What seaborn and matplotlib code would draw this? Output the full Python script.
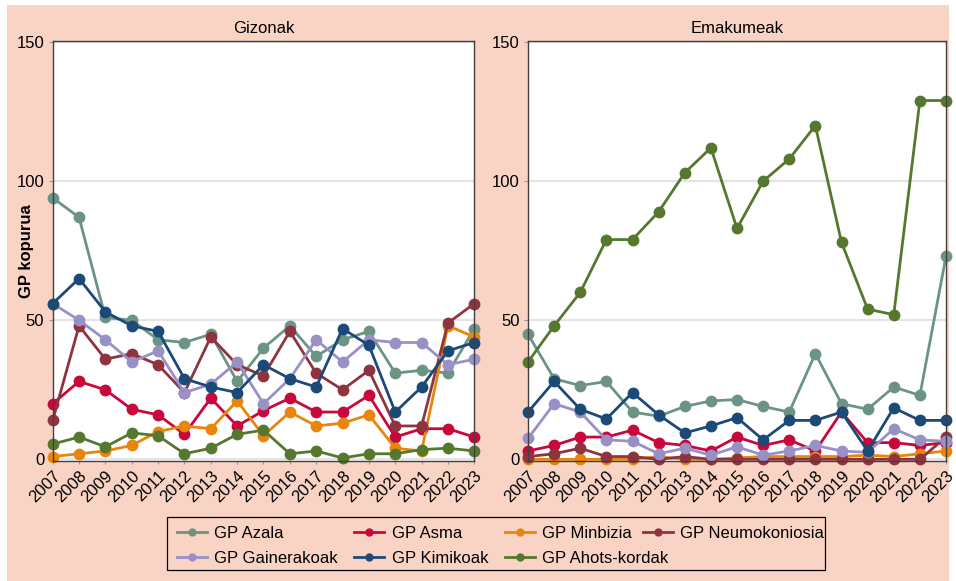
import pandas as pd
import matplotlib.pyplot as plt
import seaborn as sns
from matplotlib.lines import Line2D
from matplotlib.patches import Rectangle

# Years on the x axis
years = list(range(2007, 2024))

# Gizonak (men)
azala_g = [94, 87, 51, 50, 43, 42, 45, 28, 40, 48, 37, 43, 46, 31, 32, 31, 47]
asma_g = [20, 28, 25, 18, 16, 9, 22, 12, 17.5, 22, 17, 17, 23, 8, 11, 11, 8]
minbizia_g = [1, 2, 3, 5, 10, 12, 11, 21, 8.5, 17, 12, 13, 16, 4, 3, 48, 44]
neumo_g = [14, 48, 36, 38, 34, 24, 44, 34, 30, 46, 31, 25, 32, 12, 12, 49, 56]
gainer_g = [56, 50, 43, 35, 39, 24, 27, 35, 20, 29, 43, 35, 43, 42, 42, 34, 36]
kimik_g = [56, 65, 53, 48, 46, 29, 26, 24, 34, 29, 26, 47, 41, 17, 26, 39, 42]
ahots_g = [5.5, 8, 4.5, 9.5, 8.5, 2, 4, 9, 10.5, 2, 3, 0.5, 2, 2, 3.5, 4, 3]

# Emakumeak (women)
azala_e = [45, 29, 26.5, 28, 17, 15.5, 19, 21, 21.5, 19, 17, 38, 20, 18, 26, 23, 73]
asma_e = [3, 5, 8, 8, 10.5, 6, 5, 3, 8, 5, 7, 3, 17, 6, 6, 5, 6]
minbizia_e = [0, 0, 0, 0, 0, 1, 0, 0, 0.5, 1, 1, 1, 1, 1.5, 1, 2, 3]
neumo_e = [1, 2, 4, 1, 1, 0, 1, 0, 0, 0, 0, 0, 0, 0, 0, 0, 8]
gainer_e = [7.5, 20, 17, 7, 6.5, 2, 4, 1.5, 4.5, 1.5, 3, 5, 3, 2.5, 11, 7, 6.5]
kimik_e = [17, 28, 18, 14.5, 24, 16, 9.5, 12, 15, 7, 14, 14, 17, 3, 18.5, 14, 14]
ahots_e = [35, 48, 60, 79, 79, 89, 103, 112, 83, 100, 108, 120, 78, 54, 52, 129, 129]

series = ['GP Azala', 'GP Asma', 'GP Minbizia', 'GP Neumokoniosia',
          'GP Gainerakoak', 'GP Kimikoak', 'GP Ahots-kordak']
colors = ['#6c9485', '#c8073b', '#e8860c', '#8f343f',
          '#9990c6', '#1b4a78', '#56782e']
palette = dict(zip(series, colors))

panels = {
    'Gizonak': [azala_g, asma_g, minbizia_g, neumo_g, gainer_g, kimik_g, ahots_g],
    'Emakumeak': [azala_e, asma_e, minbizia_e, neumo_e, gainer_e, kimik_e, ahots_e],
}

rows = []
for panel, values in panels.items():
    for name, vals in zip(series, values):
        for y, v in zip(years, vals):
            rows.append({'panel': panel, 'serie': name, 'year': y, 'value': v})
df = pd.DataFrame(rows)

peach = '#f9d4c5'
plt.rcParams['font.family'] = ['Liberation Sans', 'DejaVu Sans']
W, H = 956, 581

fig = plt.figure(figsize=(W / 100, H / 100), dpi=100, facecolor='white')
fig.patches.append(Rectangle((7 / W, 0), 942 / W, 576 / H,
                             transform=fig.transFigure, facecolor=peach,
                             edgecolor='none', zorder=-10))

ax_left = fig.add_axes([52.7 / W, 120 / H, 421.6 / W, 420 / H])
ax_right = fig.add_axes([528 / W, 120 / H, 418 / W, 420 / H])

for ax, panel in [(ax_left, 'Gizonak'), (ax_right, 'Emakumeak')]:
    sub = df[df['panel'] == panel]
    sns.lineplot(data=sub, x='year', y='value', hue='serie', hue_order=series,
                 palette=palette, marker='o', markersize=8.5, markeredgewidth=0,
                 linewidth=2, legend=False, clip_on=False, ax=ax)
    ax.set_facecolor('white')
    ax.set_xlim(2007, 2023)
    ax.set_ylim(-0.6, 150.4)
    ax.set_yticks([0, 50, 100, 150])
    ax.set_xticks(years)
    ax.set_xticklabels([str(y) for y in years], rotation=45, ha='right',
                       rotation_mode='anchor', fontsize=12)
    ax.tick_params(axis='y', labelsize=12, length=3, color='#999999', pad=3)
    ax.tick_params(axis='x', length=2, color='#999999', pad=3)
    ax.grid(axis='y', color='#e4e4e8', linewidth=1.5)
    ax.set_axisbelow(True)
    for s in ax.spines.values():
        s.set_color('#404040')
        s.set_linewidth(1.0)
    ax.set_xlabel('')
    ax.set_ylabel('')
    ax.set_title(panel, fontsize=12, pad=6)

ax_left.set_ylabel('GP kopurua', fontsize=12, fontweight='bold')
ax_left.yaxis.set_label_coords(-19 / 421.6, 0.5)

# legend: one small legend per column so the columns sit where the reference has them
fig.patches.append(Rectangle((167 / W, 1 - 570 / H), 658 / W, 53 / H,
                             transform=fig.transFigure, facecolor='none',
                             edgecolor='black', linewidth=0.9, zorder=5))
handles = [Line2D([0], [0], color=c, linewidth=2, marker='o', markersize=6,
                  markeredgewidth=0) for c in colors]
columns = [[0, 4], [1, 5], [2, 6], [3]]
col_x = [177, 354, 505, 643]
for idx, x in zip(columns, col_x):
    fig.legend([handles[i] for i in idx], [series[i] for i in idx],
               loc='upper left', bbox_to_anchor=(x / W, 1 - 525.5 / H),
               fontsize=12, frameon=False, borderpad=0, borderaxespad=0,
               handlelength=1.8, handletextpad=0.45, labelspacing=0.62)

plt.savefig('out.png', dpi=100, facecolor=fig.get_facecolor())
